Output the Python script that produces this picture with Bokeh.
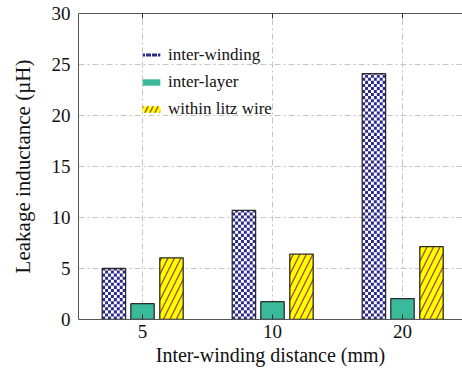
import math
from bokeh.plotting import figure
from bokeh.models import (Range1d, FixedTicker, LinearAxis, Legend, LegendItem,
                          ColumnDataSource)
from bokeh.transform import dodge
from bokeh.embed import file_html
from bokeh.resources import INLINE

categories = ["5", "10", "20"]
inter_winding = [5.0, 10.7, 24.1]
inter_layer = [1.55, 1.75, 2.05]
within_litz = [6.05, 6.4, 7.15]
y_ticks = [0, 5, 10, 15, 20, 25, 30]

pos = list(range(1, len(categories) + 1))
src = ColumnDataSource(dict(x=pos, iw=inter_winding, il=inter_layer, wl=within_litz))

FONT = "Liberation Serif"
NAVY = "#2c2a8c"
TEAL = "#3bb99b"
YEL = "#ffff00"
HATCH = "#a8502c"
BW = 0.18
OFF = 0.22

p = figure(width=462, height=372, output_backend="svg", toolbar_location=None,
           x_range=Range1d(0.5077, 3.4615), y_range=Range1d(0, 30),
           min_border_left=78, min_border_right=0, min_border_top=13, min_border_bottom=53)
p.outline_line_color = None
p.background_fill_color = "white"
p.border_fill_color = "white"

OUT = "#2b2b2b"

# checkerboard fill for the inter-winding bars, derived from the bar values
ncol = 8
cw = BW / ncol
ch = 0.3
L, R, B, T = [], [], [], []
for xc, v in zip(pos, inter_winding):
    left = xc - OFF - BW / 2
    for r in range(math.ceil(v / ch)):
        for c in range(ncol):
            if (r + c) % 2 == 0:
                L.append(left + c * cw)
                R.append(left + (c + 1) * cw)
                B.append(r * ch)
                T.append(min((r + 1) * ch, v))
p.quad(left=L, right=R, bottom=B, top=T, fill_color=NAVY, line_color=None)

r1 = p.vbar(x=dodge("x", -OFF), top="iw", bottom=0, width=BW, source=src,
            fill_color=None, line_color=OUT, line_width=1.3)
r2 = p.vbar(x="x", top="il", bottom=0, width=BW, source=src,
            fill_color=TEAL, line_color=OUT, line_width=1.3)
r3 = p.vbar(x=dodge("x", OFF + 0.003), top="wl", bottom=0, width=BW, source=src,
            fill_color=YEL, hatch_pattern="right_diagonal_line", hatch_color=HATCH,
            hatch_scale=13, hatch_weight=1.4, line_color=OUT, line_width=1.3)

# legend proxies without outlines
l1 = p.vbar(x="x", top="iw", width=BW, source=src, fill_color="white", line_color=None,
            hatch_pattern="horizontal_dash", hatch_color=NAVY, hatch_scale=6, hatch_weight=3)
l1.visible = False
l2 = p.vbar(x="x", top="il", width=BW, source=src, fill_color=TEAL, line_color=None)
l2.visible = False
l3 = p.vbar(x="x", top="wl", width=BW, source=src, fill_color=YEL, line_color=None,
            hatch_pattern="right_diagonal_line", hatch_color=HATCH, hatch_scale=10, hatch_weight=1.4)
l3.visible = False

legend = Legend(items=[LegendItem(label="inter-winding", renderers=[l1]),
                       LegendItem(label="inter-layer", renderers=[l2]),
                       LegendItem(label="within litz wire", renderers=[l3])],
                location=(62, 200), glyph_width=22, glyph_height=8,
                label_text_font=FONT, label_text_font_size="17px", label_text_color="#111111",
                label_height=20, spacing=7, label_standoff=6,
                background_fill_alpha=0, border_line_alpha=0, padding=0, margin=0)
p.add_layout(legend)

# axes
xa = p.xaxis[0]
xa.ticker = FixedTicker(ticks=pos)
xa.major_label_overrides = {i: c for i, c in zip(pos, categories)}
xa.major_tick_in = 5
xa.major_tick_out = 0
xa.minor_tick_line_color = None
xa.axis_line_color = "#555555"
xa.major_tick_line_color = "#333333"
xa.major_label_text_font = FONT
xa.major_label_text_font_size = "19px"
xa.major_label_text_color = "#111111"
xa.major_label_standoff = 5
xa.axis_label = "Inter-winding distance (mm)"
xa.axis_label_text_font = FONT
xa.axis_label_text_font_size = "20px"
xa.axis_label_text_font_style = "normal"
xa.axis_label_text_color = "#111111"
xa.axis_label_standoff = 3

ya = p.yaxis[0]
ya.ticker = FixedTicker(ticks=y_ticks)
ya.major_tick_in = 0
ya.major_tick_out = 0
ya.minor_tick_line_color = None
ya.axis_line_color = "#555555"
ya.major_label_text_font = FONT
ya.major_label_text_font_size = "19px"
ya.major_label_text_color = "#111111"
ya.major_label_standoff = 8
ya.axis_label = "Leakage inductance (µH)"
ya.axis_label_text_font = FONT
ya.axis_label_text_font_size = "21px"
ya.axis_label_text_font_style = "normal"
ya.axis_label_text_color = "#111111"
ya.axis_label_standoff = 14

top = LinearAxis(ticker=FixedTicker(ticks=pos), major_tick_in=5, major_tick_out=0,
                 minor_tick_line_color=None, axis_line_color="#555555",
                 major_tick_line_color="#333333",
                 major_label_overrides={i: "" for i in pos},
                 major_label_standoff=0)
p.add_layout(top, "above")

for g in (p.xgrid[0], p.ygrid[0]):
    g.grid_line_color = "#c4c4c4"
    g.grid_line_dash = "6 3 2 3"
    g.grid_line_width = 1
p.xgrid[0].ticker = FixedTicker(ticks=pos)
p.ygrid[0].ticker = FixedTicker(ticks=y_ticks)

open("out.html", "w").write(file_html(p, INLINE))
